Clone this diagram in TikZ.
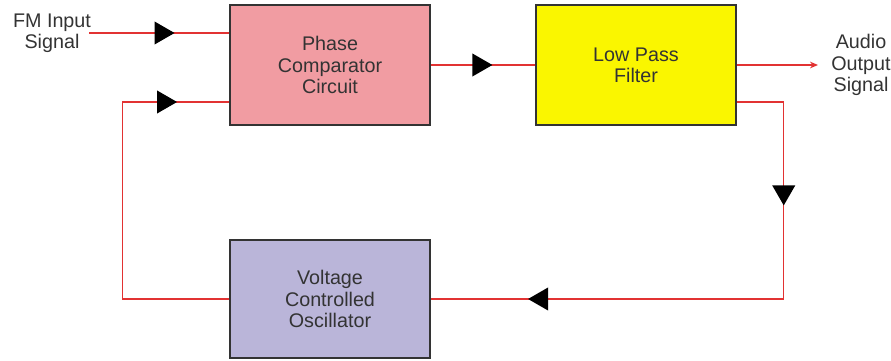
\documentclass[tikz,border=0pt]{standalone}
\usepackage{fontspec}
\setmainfont{Liberation Sans}
\usetikzlibrary{arrows.meta}
\usetikzlibrary{calc}
\usetikzlibrary{positioning}
\usetikzlibrary{decorations.markings}
\definecolor{pcpink}{RGB}{241, 156, 162}
\definecolor{lpfyellow}{RGB}{250, 246, 0}
\definecolor{vcoblue}{RGB}{186, 181, 217}
\definecolor{sigred}{RGB}{226, 50, 50}
\definecolor{txtgray}{RGB}{51, 51, 51}
\tikzset{
  every node/.style={text=txtgray, font=\fontsize{14.8}{16}\selectfont, align=center},
  block/.style={draw=txtgray, line width=1.1pt, minimum width=150pt, minimum height=90pt, inner sep=0},
  sig/.style={draw=sigred, line width=1.1pt},
  tri/.style={postaction={decorate}, decoration={markings,
      mark=at position #1 with {\arrow[black]{Triangle[length=15pt,width=17pt]}}}},
  twotri/.style 2 args={postaction={decorate}, decoration={markings,
      mark=at position #1 with {\arrow[black]{Triangle[length=15pt,width=17pt]}},
      mark=at position #2 with {\arrow[black]{Triangle[length=15pt,width=17pt]}}}}
}

\begin{document}
\begin{tikzpicture}[x=0.75pt, y=0.75pt]
      \useasboundingbox (0,0) rectangle (891,360);

      \node [block, fill=pcpink] (pc) at (330,295) {Phase\\Comparator\\Circuit};
      \node [block, fill=lpfyellow] (lpf) at (636,295) {Low Pass\\Filter};
      \node [block, fill=vcoblue, minimum height=88.5pt] (vco) at (330,61) {Voltage\\Controlled\\Oscillator};

      \node (fmin) at (52,327) {FM Input\\Signal};
      \node (audio) at (861,295) {Audio\\Output\\Signal};

      \coordinate (in) at (89,327);
      \coordinate (out) at (818,295);
      \coordinate (lpfout) at ($(lpf.east)+(0,-37)$);
      \coordinate (pcfb) at ($(pc.west)+(0,-37)$);

      % forward path
      \draw [sig, tri=0.61] (in) -- (in -| pc.west);
      \draw [sig, tri=0.59] (pc) -- (lpf);
      \draw [sig, -{Stealth[length=6pt,width=5pt]}] (lpf.east) -- (out);

      % loop back through the oscillator
      \draw [sig, twotri={0.252}{0.837}] (lpfout) -- ++(47,0) |- (vco.east);
      \draw [sig, tri=0.873] (vco.west) -- ++(-107,0) |- (pcfb);
    \end{tikzpicture}
\end{document}
